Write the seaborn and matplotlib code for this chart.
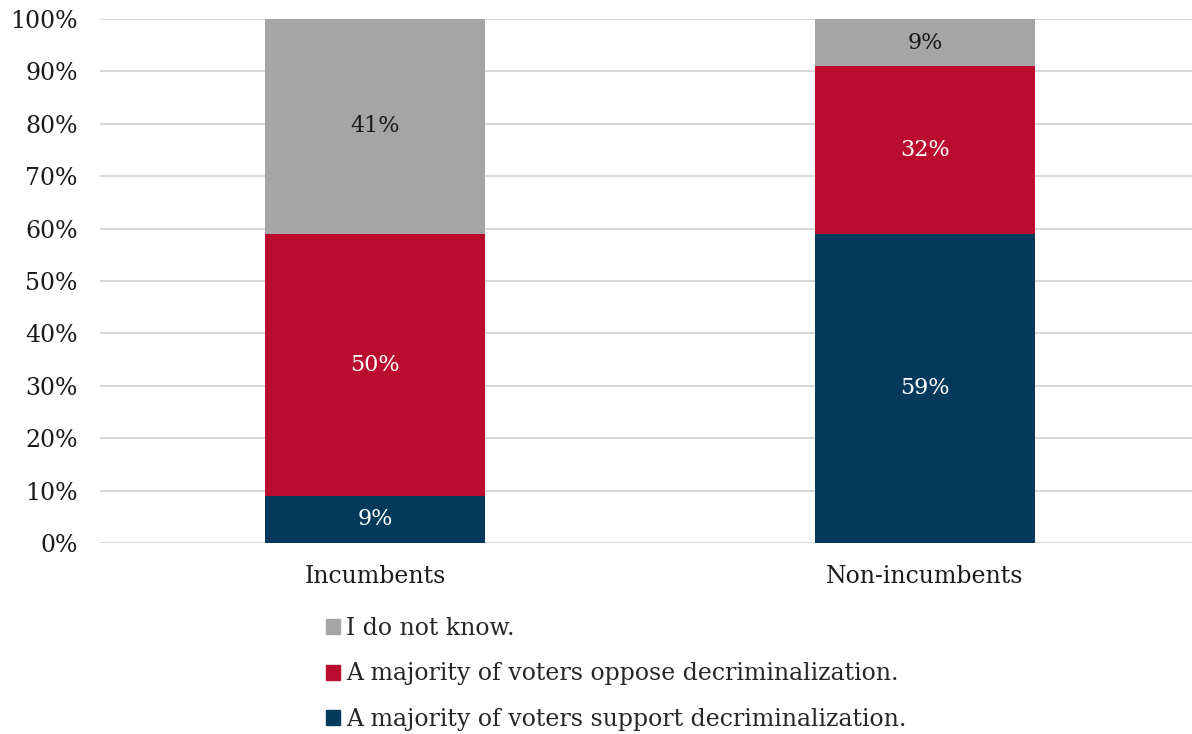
import matplotlib
matplotlib.use("Agg")
import matplotlib.pyplot as plt
import seaborn as sns
import pandas as pd
from matplotlib.patches import Patch

groups = ["Incumbents", "Non-incumbents"]
support = [9, 59]
oppose = [50, 32]
dont_know = [41, 9]
series_names = ["I do not know.",
                "A majority of voters oppose decriminalization.",
                "A majority of voters support decriminalization."]
colors = {"support": "#033A5C", "oppose": "#BA0C2F", "dk": "#A5A5A5"}
yticks = [0, 10, 20, 30, 40, 50, 60, 70, 80, 90, 100]

sns.set_theme(style="white")
plt.rcParams["font.family"] = ["DejaVu Serif"]

df = pd.DataFrame({"group": groups, "support": support, "oppose": oppose, "dk": dont_know})
df["cum_support"] = df["support"]
df["cum_oppose"] = df["support"] + df["oppose"]
df["cum_dk"] = df["cum_oppose"] + df["dk"]

fig = plt.figure(figsize=(11.92, 7.34), dpi=100)
ax = fig.add_axes([100/1192, 1-543/734, 1-100/1192, (543-19)/734])

for col, c in [("cum_dk", colors["dk"]), ("cum_oppose", colors["oppose"]), ("cum_support", colors["support"])]:
    sns.barplot(data=df, x="group", y=col, color=c, width=0.4, ax=ax, saturation=1,
                linewidth=0, edgecolor="none", zorder=3)

ax.set_ylim(0, 100)
ax.set_xlim(-0.501, 1.486)
ax.set_yticks(yticks)
ax.set_yticklabels([f"{v}%" for v in yticks])
ax.yaxis.grid(True, color="#D9D9D9", linewidth=1.5, zorder=0)
ax.set_axisbelow(True)
for s in ax.spines.values():
    s.set_visible(False)
ax.set_xlabel("")
ax.set_ylabel("")
ax.tick_params(axis="both", length=0, labelsize=17, colors="#1a1a1a")
ax.tick_params(axis="y", pad=16)
ax.tick_params(axis="x", pad=16)

for i in range(len(groups)):
    s, o, d = support[i], oppose[i], dont_know[i]
    ax.text(i, s/2, f"{s}%", ha="center", va="center", color="white", fontsize=16)
    ax.text(i, s + o/2, f"{o}%", ha="center", va="center", color="white", fontsize=16)
    ax.text(i, s + o + d/2, f"{d}%", ha="center", va="center", color="#1a1a1a", fontsize=16)

handles = [Patch(color=colors["dk"]), Patch(color=colors["oppose"]), Patch(color=colors["support"])]
fig.legend(handles, series_names, loc="upper left", bbox_to_anchor=(326/1192, 1-617/734),
           frameon=False, fontsize=17, handlelength=0.6, handleheight=0.6,
           handletextpad=0.25, labelspacing=0.95, borderaxespad=0, borderpad=0)

fig.savefig("out.png", dpi=100)
